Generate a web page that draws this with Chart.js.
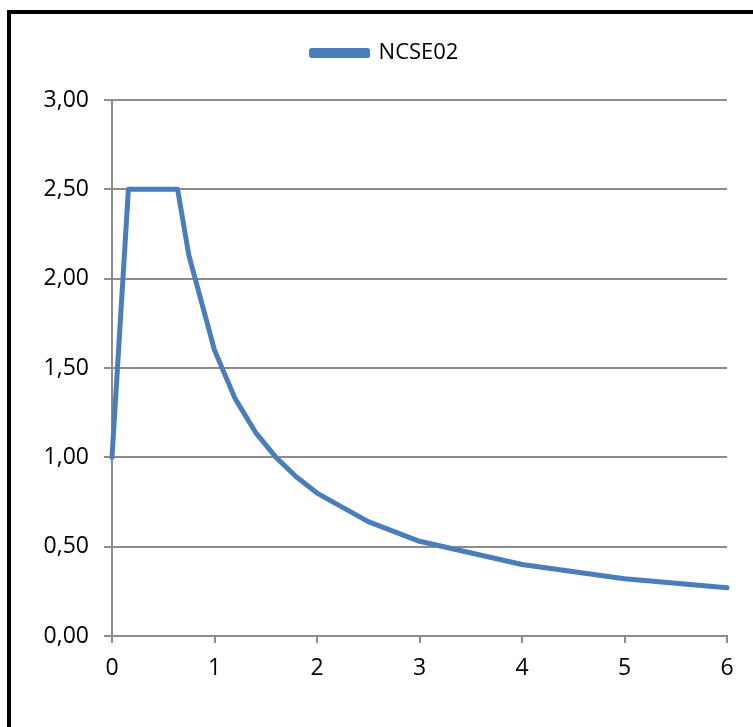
<!DOCTYPE html>
<html>
<head>
<meta charset="utf-8">
<script src="https://cdn.jsdelivr.net/npm/chart.js@4/dist/chart.umd.min.js"></script>
<style>
  html, body { margin: 0; padding: 0; background: #fff; overflow: hidden; }
  .frame { position: absolute; left: 7px; top: 10px; border: 4px solid #000; width: 760px; height: 720px; }
  canvas { display: block; }
</style>
</head>
<body>
<div class="frame"><canvas id="chart" width="760" height="720"></canvas></div>
<script>
// periodo T (s) y valor del espectro
const periodos = [0, 0.16, 0.64, 0.75, 1.0, 1.2, 1.4, 1.6, 1.8, 2.0, 2.5, 3.0, 4.0, 5.0, 6.0]
const valores  = [1.00, 2.50, 2.50, 2.13, 1.60, 1.33, 1.14, 1.00, 0.89, 0.80, 0.64, 0.53, 0.40, 0.32, 0.27]
const serieNombre = "NCSE02"
const xTicks = [0, 1, 2, 3, 4, 5, 6]
const yTicks = [0, 0.5, 1, 1.5, 2, 2.5, 3]

const azul = "#4a7ebb"
const gris = "#8c8c8c"
const fuente = { family: "'Open Sans', sans-serif", size: 23 }

const puntos = periodos.map((t, i) => ({ x: t, y: valores[i] }))

// espacio extra bajo la leyenda y leyenda un poco a la derecha
const ajusteLeyenda = {
    id: "ajusteLeyenda",
    afterInit(chart) {
        const leyenda = chart.legend
        if (leyenda && !leyenda._parcheado) {
            const fitOriginal = leyenda.fit
            leyenda.fit = function () {
                fitOriginal.call(this)
                this.height += 26
            }
            leyenda._parcheado = true
        }
    },
    afterLayout(chart) {
        if (chart.legend) {
            chart.legend.left += 16
            chart.legend.right += 16
        }
    }
}

const ctx = document.getElementById("chart").getContext("2d")
new Chart(ctx, {
    type: "line",
    data: {
        datasets: [
            {
                label: serieNombre,
                data: puntos,
                borderColor: azul,
                backgroundColor: azul,
                borderWidth: 5,
                borderCapStyle: "round",
                borderJoinStyle: "round",
                tension: 0,
                pointRadius: 0,
                clip: false,
            }
        ]
    },
    plugins: [ajusteLeyenda],
    options: {
        responsive: false,
        animation: false,
        layout: { padding: { top: 18, right: 44, left: 0, bottom: 0 } },
        scales: {
            x: {
                type: "linear",
                min: 0,
                max: 6,
                afterBuildTicks: (scale) => { scale.ticks = xTicks.map(v => ({ value: v })) },
                afterFit: (scale) => { scale.height = 98 },
                ticks: { color: "#000", font: fuente, padding: 12 },
                grid: { drawOnChartArea: false, drawTicks: true, tickLength: 7, color: gris, lineWidth: 2 },
                border: { color: gris, width: 2 },
            },
            y: {
                min: 0,
                max: 3,
                afterBuildTicks: (scale) => { scale.ticks = yTicks.map(v => ({ value: v })) },
                afterFit: (scale) => { scale.width = 101 },
                ticks: {
                    color: "#000",
                    font: fuente,
                    padding: 15,
                    callback: (v) => v.toFixed(2).replace(".", ","),
                },
                grid: { color: gris, lineWidth: 2, tickLength: 8 },
                border: { color: gris, width: 2 },
            }
        },
        plugins: {
            legend: {
                display: true,
                position: "top",
                labels: { color: "#000", font: { family: "'Open Sans', sans-serif", size: 22 }, boxWidth: 56, boxHeight: 5, padding: 10 }
            },
            tooltip: { enabled: false }
        }
    }
})
</script>
</body>
</html>
